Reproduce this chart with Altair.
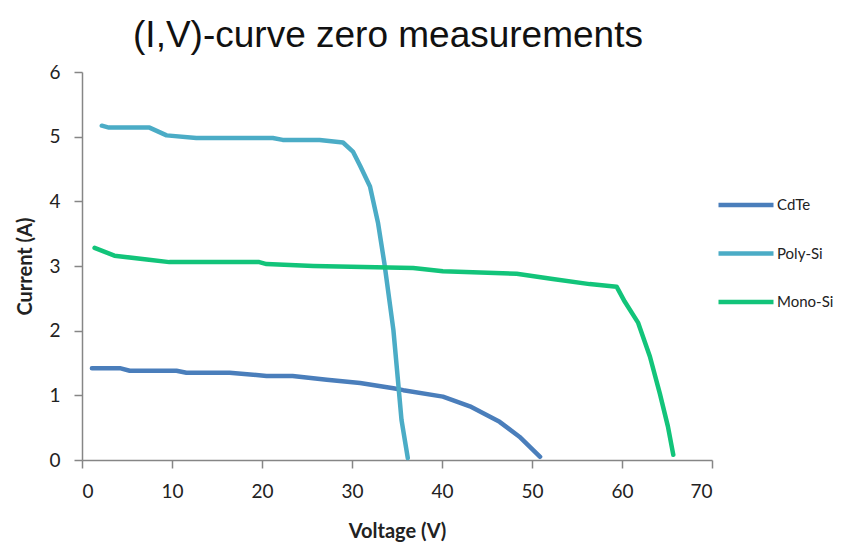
import altair as alt
import pandas as pd

# CdTe (V, A)
cdte_v = [1.1, 4.2, 5.3, 10.5, 11.6, 16.4, 20.5, 23.4, 27.2, 30.9, 34.6, 35.7, 40.1, 43.1, 46.4, 48.6, 50.9]
cdte_i = [1.42, 1.42, 1.38, 1.38, 1.35, 1.35, 1.30, 1.30, 1.24, 1.19, 1.11, 1.08, 0.98, 0.83, 0.59, 0.36, 0.05]

# Poly-Si
poly_v = [2.2, 3.0, 7.5, 9.4, 12.7, 21.2, 22.3, 26.4, 29.0, 30.1, 30.9, 32.0, 32.9, 33.6, 34.6, 35.1, 35.5, 36.2]
poly_i = [5.17, 5.14, 5.14, 5.02, 4.98, 4.98, 4.95, 4.95, 4.91, 4.77, 4.55, 4.23, 3.66, 3.04, 2.01, 1.24, 0.62, 0.03]

# Mono-Si
mono_v = [1.4, 3.6, 7.2, 9.7, 19.7, 20.5, 25.7, 36.8, 40.1, 48.3, 52.3, 56.4, 59.4, 60.3, 61.8, 63.1, 64.2, 65.1, 65.7]
mono_i = [3.28, 3.16, 3.10, 3.06, 3.06, 3.03, 3.00, 2.97, 2.92, 2.88, 2.80, 2.72, 2.68, 2.45, 2.12, 1.60, 1.03, 0.52, 0.08]

series = ["CdTe", "Poly-Si", "Mono-Si"]
colors = ["#4a7ebb", "#4bacc6", "#12c47a"]
x_ticks = [0, 10, 20, 30, 40, 50, 60, 70]
y_ticks = [0, 1, 2, 3, 4, 5, 6]

rows = []
for name, vs, cs in zip(series, [cdte_v, poly_v, mono_v], [cdte_i, poly_i, mono_i]):
    for k, (v, c) in enumerate(zip(vs, cs)):
        rows.append({"Series": name, "Voltage": v, "Current": c, "order": k})
df = pd.DataFrame(rows)

label_font = "Lato"

chart = alt.Chart(df).mark_line(strokeWidth=4.5, strokeCap="round", strokeJoin="round").encode(
    x=alt.X("Voltage:Q",
            scale=alt.Scale(domain=[0, 70], nice=False, zero=False),
            axis=alt.Axis(values=x_ticks, title="Voltage (V)", grid=False,
                          domainColor="#868686", tickColor="#868686", tickSize=8,
                          domainWidth=1.5, tickWidth=1.5,
                          labelFont=label_font, labelFontSize=19, labelColor="#222",
                          labelPadding=14,
                          titleFont=label_font, titleFontSize=20, titleFontWeight="bold",
                          titleColor="#222", titlePadding=20)),
    y=alt.Y("Current:Q",
            scale=alt.Scale(domain=[0, 6], nice=False),
            axis=alt.Axis(values=y_ticks, title="Current (A)", grid=False,
                          domainColor="#868686", tickColor="#868686", tickSize=8,
                          domainWidth=1.5, tickWidth=1.5,
                          labelFont=label_font, labelFontSize=19, labelColor="#222",
                          labelPadding=14,
                          titleFont=label_font, titleFontSize=20, titleFontWeight="bold",
                          titleColor="#222", titlePadding=13)),
    color=alt.Color("Series:N",
                    scale=alt.Scale(domain=series, range=colors),
                    legend=alt.Legend(title=None, orient="none", legendX=634, legendY=103,
                                      symbolType="stroke", symbolSize=3025,
                                      symbolStrokeWidth=4.5,
                                      labelFont=label_font, labelFontSize=15,
                                      labelColor="#222", labelOffset=1,
                                      rowPadding=9.5)),
    order="order:Q",
).properties(
    width=630,
    height=388,
    title=alt.TitleParams("(I,V)-curve zero measurements", font="Liberation Sans",
                          fontSize=37, fontWeight="normal", color="#111",
                          anchor="middle", dx=-9, offset=8),
    autosize=alt.AutoSizeParams(type="none"),
    padding={"left": 74, "top": 64, "right": 135, "bottom": 83},
).configure_view(stroke=None)

chart.save("out.html", embed_options={"renderer": "svg", "actions": False})
